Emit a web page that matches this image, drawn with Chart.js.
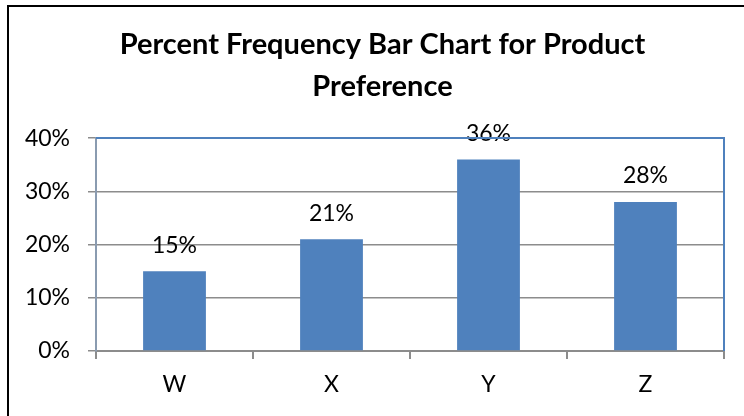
<!DOCTYPE html>
<html>
<head>
<meta charset="utf-8">
<script src="https://cdn.jsdelivr.net/npm/chart.js@4/dist/chart.umd.min.js"></script>
<style>
  html, body { margin: 0; padding: 0; background: #fff; overflow: hidden; }
  #frame { position: absolute; left: 7px; top: 5px; width: 800px; height: 500px; border: 2px solid #000; }
  #wrap { position: absolute; left: 0; top: 0; width: 744px; height: 416px; }
</style>
</head>
<body>
<div id="frame"></div>
<div id="wrap"><canvas id="grafico" width="744" height="416"></canvas></div>
<script>
const productos = ["W", "X", "Y", "Z"];
const porcentajes = [15, 21, 36, 28];
const ticksY = [0, 10, 20, 30, 40];

const fuente = "Lato, 'Open Sans', sans-serif";

// etiquetas encima de cada barra y borde azul arriba/derecha del area
const etiquetas = {
  id: 'etiquetas',
  afterDatasetsDraw(chart) {
    const ctx = chart.ctx;
    const meta = chart.getDatasetMeta(0);
    ctx.save();
    ctx.font = "23px " + fuente;
    ctx.fillStyle = "#000";
    ctx.textAlign = "center";
    ctx.textBaseline = "middle";
    meta.data.forEach((bar, i) => {
      ctx.fillText(porcentajes[i] + "%", bar.x, bar.y - 26);
    });
    const a = chart.chartArea;
    ctx.strokeStyle = "#4f81bd";
    ctx.lineWidth = 2;
    ctx.beginPath();
    ctx.moveTo(a.left, a.top);
    ctx.lineTo(a.right, a.top);
    ctx.lineTo(a.right, a.bottom);
    ctx.stroke();
    ctx.restore();
  }
};

new Chart(document.getElementById("grafico").getContext("2d"), {
  type: "bar",
  data: {
    labels: productos,
    datasets: [{
      data: porcentajes,
      backgroundColor: "#4f81bd",
      borderWidth: 0,
      categoryPercentage: 1,
      barPercentage: 0.4
    }]
  },
  options: {
    responsive: false,
    animation: false,
    layout: { padding: { left: 21, right: 0, top: 0, bottom: 0 } },
    plugins: {
      legend: { display: false },
      tooltip: { enabled: false },
      title: {
        display: true,
        text: ["Percent Frequency Bar Chart for Product", "Preference"],
        color: "#000",
        font: { family: fuente, size: 29, weight: "bold", lineHeight: 1.45 },
        padding: { top: 24, bottom: 30 }
      }
    },
    scales: {
      x: {
        afterFit(scale) { scale.height = 65; },
        grid: { drawOnChartArea: false, drawTicks: true, tickLength: 8, color: "#8c8c8c", lineWidth: 2, offset: true },
        border: { color: "#8c8c8c", width: 2 },
        ticks: { color: "#000", font: { family: fuente, size: 23 }, padding: 12 }
      },
      y: {
        min: 0,
        max: 40,
        afterFit(scale) { scale.width = 75; },
        afterBuildTicks(scale) { scale.ticks = ticksY.map(v => ({ value: v })); },
        grid: { color: "#8c8c8c", lineWidth: 1.5, tickLength: 8 },
        border: { color: "#8a9bb0", width: 2 },
        ticks: {
          color: "#000",
          font: { family: fuente, size: 23 },
          padding: 18,
          callback: v => v + "%"
        }
      },
      // margen derecho vacio
      margen: {
        type: "linear",
        position: "right",
        afterFit(scale) { scale.width = 20; },
        grid: { display: false },
        border: { display: false },
        ticks: { display: false }
      }
    }
  },
  plugins: [etiquetas]
});
</script>
</body>
</html>
